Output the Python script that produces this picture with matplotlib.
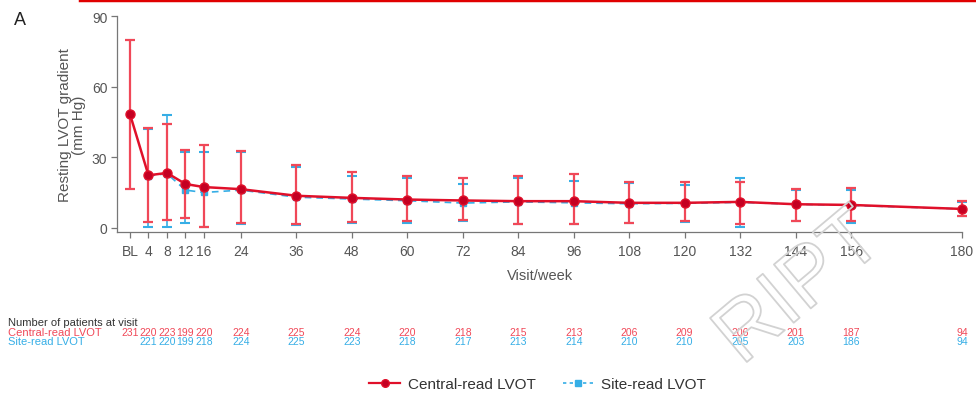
import matplotlib.pyplot as plt
import matplotlib.transforms as mtransforms
import matplotlib.patheffects as pe
from matplotlib.lines import Line2D
import numpy as np

# -------------------------------
# Data
# -------------------------------
weeks = [0, 4, 8, 12, 16, 24, 36, 48, 60, 72, 84, 96, 108, 120, 132, 144, 156, 180]
tick_labels = ['BL', '4', '8', '12', '16', '24', '36', '48', '60', '72', '84',
               '96', '108', '120', '132', '144', '156', '180']

# central-read LVOT gradient (mm Hg): mean, lower and upper whisker
central_mean = [48.3, 22.3, 23.3, 18.6, 17.3, 16.4, 13.6, 12.7, 12.0, 11.6, 11.3, 11.3,
                10.6, 10.6, 11.0, 10.0, 9.7, 8.0]
central_lo = [16.5, 2.5, 3.5, 4.0, 0.3, 2.0, 1.5, 2.5, 3.0, 3.5, 1.5, 1.5,
              2.0, 3.0, 1.5, 3.0, 3.0, 5.0]
central_hi = [80.0, 42.5, 44.0, 33.0, 35.3, 32.6, 26.7, 23.5, 22.0, 21.0, 22.0, 23.0,
              19.5, 19.5, 19.5, 16.5, 17.0, 11.5]

# site-read LVOT gradient (no baseline value)
site_weeks = weeks[1:]
site_mean = [22.0, 23.0, 16.0, 15.0, 16.0, 13.0, 12.2, 11.5, 10.5, 11.0, 10.6,
             10.2, 10.4, 10.8, 10.0, 9.5, 8.0]
site_lo = [0.5, 0.5, 2.0, 0.3, 1.5, 1.0, 2.0, 2.0, 3.0, 1.5, 1.5,
           2.0, 2.5, 0.5, 3.0, 2.0, 5.0]
site_hi = [42.0, 48.0, 32.0, 32.0, 32.0, 26.0, 22.0, 21.0, 18.5, 21.0, 20.0,
           19.0, 18.0, 21.0, 16.0, 16.0, 11.0]

# number of patients at each visit
central_n = [231, 220, 223, 199, 220, 224, 225, 224, 220, 218, 215, 213, 206, 209,
             206, 201, 187, 94]
site_n = [221, 220, 199, 218, 224, 225, 223, 218, 217, 213, 214, 210, 210,
          205, 203, 186, 94]

red = '#e0102a'
bar_red = '#f04858'
cap_red = '#a8303c'
dark_red = '#c40022'
blue = '#36aee6'
grey = '#555555'

plt.rcParams['font.family'] = ['Liberation Sans', 'DejaVu Sans']

fig = plt.figure(figsize=(9.76, 4.02), dpi=100)
ax = fig.add_axes([0.1199, 0.4204, 0.8658, 0.5373])

# -------------------------------
# Site-read series (drawn underneath)
# -------------------------------
s_mean = np.array(site_mean)
s_line, s_caps, s_bars = ax.errorbar(
    site_weeks, site_mean,
    yerr=[s_mean - np.array(site_lo), np.array(site_hi) - s_mean],
    fmt='s', color=blue, ecolor=blue, elinewidth=1.2, capsize=3.6,
    capthick=1.5, markersize=4, linestyle=(0, (4, 3)), linewidth=1.2,
    clip_on=False, zorder=2)
for c in s_caps:
    c.set_color('#5a9ccc')

# -------------------------------
# Central-read series
# -------------------------------
c_mean = np.array(central_mean)
c_line, c_caps, c_bars = ax.errorbar(
    weeks, central_mean,
    yerr=[c_mean - np.array(central_lo), np.array(central_hi) - c_mean],
    fmt='o', color=red, ecolor=bar_red, elinewidth=1.6, capsize=3.6,
    capthick=1.6, markersize=6.5, markerfacecolor=dark_red,
    markeredgecolor=red, linestyle='-', linewidth=1.8,
    clip_on=False, zorder=3)
for c in c_caps:
    c.set_color(cap_red)

# -------------------------------
# Axes styling
# -------------------------------
ax.set_xlim(-2.8, 180)
ax.set_ylim(-1.8, 90)
ax.spines['top'].set_visible(False)
ax.spines['right'].set_visible(False)
for side in ['left', 'bottom']:
    ax.spines[side].set_color('#777777')
    ax.spines[side].set_linewidth(0.9)
ax.set_xticks(weeks)
ax.set_xticklabels(tick_labels)
ax.set_yticks([0, 30, 60, 90])
ax.tick_params(axis='both', colors='#777777', labelcolor=grey, labelsize=10,
               length=4, width=0.9, pad=3)
ax.tick_params(axis='x', pad=5)
ax.set_xlabel('Visit/week', fontsize=10.5, color=grey, labelpad=7)
ax.set_ylabel('Resting LVOT gradient\n(mm Hg)', fontsize=11, color=grey,
              labelpad=4, linespacing=1.0)

fig.text(0.02, 0.95, 'A', fontsize=13, color='#222222', ha='center', va='center')

# -------------------------------
# Patients at visit table
# -------------------------------
trans = mtransforms.blended_transform_factory(ax.transData, fig.transFigure)
fig.text(0.008, 0.197, 'Number of patients at visit', fontsize=8, color='#333333',
         va='center')
fig.text(0.008, 0.172, 'Central-read LVOT', fontsize=8, color=bar_red, va='center')
fig.text(0.008, 0.149, 'Site-read LVOT', fontsize=8, color=blue, va='center')
for w, n in zip(weeks, central_n):
    ax.text(w, 0.172, str(n), transform=trans, fontsize=7.5, color=bar_red,
            ha='center', va='center', clip_on=False)
for w, n in zip(site_weeks, site_n):
    ax.text(w, 0.149, str(n), transform=trans, fontsize=7.5, color=blue,
            ha='center', va='center', clip_on=False)

# -------------------------------
# Legend
# -------------------------------
handles = [
    Line2D([], [], color=red, marker='o', markersize=5.5, markerfacecolor=dark_red,
           markeredgecolor=red, linewidth=1.6),
    Line2D([], [], color=blue, marker='s', markersize=4, linestyle=(0, (2, 2)),
           linewidth=1.2),
]
fig.legend(handles, ['Central-read LVOT', 'Site-read LVOT'], loc='center',
           bbox_to_anchor=(0.551, 0.042), ncol=2, frameon=False, fontsize=11,
           handlelength=2.0, columnspacing=1.8, handletextpad=0.5,
           labelcolor='#333333')

# faint watermark lettering
fig.text(0.82, 0.28, 'RIPT', fontsize=60, rotation=40, ha='center', va='center',
         color=(1, 1, 1, 0), zorder=5,
         path_effects=[pe.Stroke(linewidth=1.3, foreground='#d2d2d2')])

# red rule across the top of the page
fig.add_artist(Line2D([0.082, 1.0], [0.997, 0.997], color='#e00000',
                      linewidth=2.5, transform=fig.transFigure))

fig.savefig('out.png', dpi=100)
